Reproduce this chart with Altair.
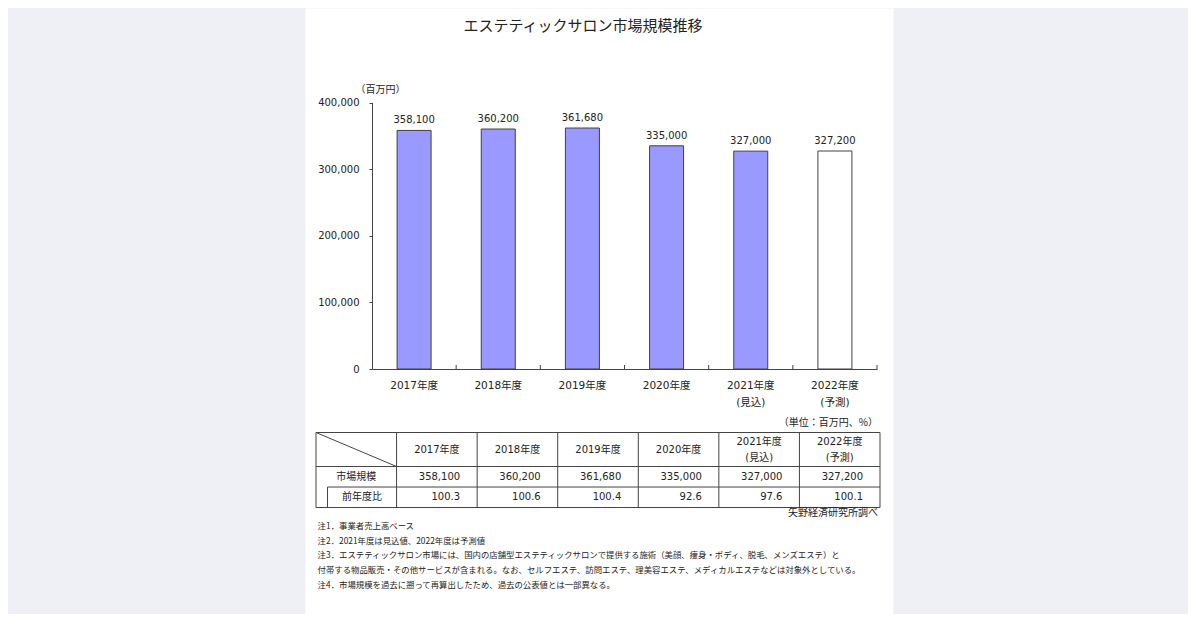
import altair as alt
import pandas as pd

# ---------------- data ----------------
title = "エステティックサロン市場規模推移"
years = ["2017年度", "2018年度", "2019年度", "2020年度", "2021年度", "2022年度"]
year_notes = ["", "", "", "", "(見込)", "(予測)"]
status = ["実績", "実績", "実績", "実績", "見込", "予測"]
market = [358100, 360200, 361680, 335000, 327000, 327200]
yoy = [100.3, 100.6, 100.4, 92.6, 97.6, 100.1]
y_ticks = [0, 100000, 200000, 300000, 400000]
unit_axis = "（百万円）"
unit_table = "（単位：百万円、%）"
row_labels = ["市場規模", "前年度比"]
source = "矢野経済研究所調べ"
notes = [
    "注1．事業者売上高ベース",
    "注2．2021年度は見込値、2022年度は予測値",
    "注3．エステティックサロン市場には、国内の店舗型エステティックサロンで提供する施術（美顔、痩身・ボディ、脱毛、メンズエステ）と",
    "付帯する物品販売・その他サービスが含まれる。なお、セルフエステ、訪問エステ、理美容エステ、メディカルエステなどは対象外としている。",
    "注4．市場規模を過去に遡って再算出したため、過去の公表値とは一部異なる。",
]

# ---------------- styles ----------------
JP = "Noto Sans CJK JP"
MIX = "DejaVu Sans, Noto Sans CJK JP"
INK = "#222222"
LINE = "#444444"
BAR = "#9999FF"

W, H = 588, 606

# ---------------- bar chart ----------------
bars_df = pd.DataFrame({"year": years, "value": market, "status": status})

xs = alt.Scale(domain=years, range=[67, 572], paddingInner=0, paddingOuter=0)
ys = alt.Scale(domain=[0, 400000], range=[361, 94.5], nice=False, zero=True)

label_expr = "".join(
    f"datum.value == '{y}' ? ['{y}', '{n}'] : " for y, n in zip(years, year_notes) if n
) + "datum.label"

x_axis = alt.Axis(
    title=None, ticks=False, grid=False, labelAngle=0, labelFont=MIX, labelFontSize=10.5,
    labelColor=INK, labelPadding=11, labelLineHeight=17, labelExpr=label_expr,
    domainColor=LINE, offset=-245,
)
y_axis = alt.Axis(
    values=y_ticks, labelExpr="format(datum.value, ',')", grid=False,
    labelFont="DejaVu Sans", labelFontSize=10,
    labelColor=INK, labelPadding=10, tickSize=3, tickColor=LINE, domainColor=LINE,
    offset=-67, title=unit_axis, titleAngle=0, titleAlign="left", titleBaseline="middle",
    titleX=-17, titleY=81, titleFont=JP, titleFontSize=10, titleFontWeight="normal",
    titleColor=INK,
)

x_enc = alt.X("year:N", scale=xs, axis=x_axis)
y_enc = alt.Y("value:Q", scale=ys, axis=y_axis)

bars = alt.Chart(bars_df).mark_bar(size=34, stroke="#404040", strokeWidth=1).encode(
    x=x_enc,
    y=y_enc,
    fill=alt.Fill("status:N", scale=alt.Scale(domain=["実績", "見込", "予測"],
                                              range=[BAR, BAR, "#ffffff"]), legend=None),
)
value_labels = alt.Chart(bars_df).mark_text(
    dy=-7, baseline="alphabetic", font="DejaVu Sans", fontSize=10, color=INK
).encode(x=x_enc, y=y_enc, text=alt.Text("value:Q", format=","))

x_ticks = alt.Chart(bars_df).mark_rule(color=LINE, strokeWidth=1).encode(
    x=alt.X("year:N", scale=xs, bandPosition=1),
    y=alt.datum(0),
    y2=alt.datum(6000),
)

bar_group = alt.layer(bars, value_labels, x_ticks)

# ---------------- table ----------------
tx = alt.Scale(domain=[0, 7], range=[11, 575], nice=False, zero=False)
ty = alt.Scale(domain=[0, 1], range=[424.5, 445], nice=False, zero=False)

hdr = 1.66          # header row bottom (row units)
r1 = hdr + 1.0      # first data row bottom
r2 = r1 + 1.0       # second data row bottom
indent = 0.143      # indent of the sub-row label cell
half_line = 0.39    # half line spacing for two-line header cells

grid_rows = [
    (0, 7, 0, 0), (0, 7, hdr, hdr), (indent, 7, r1, r1), (0, 7, r2, r2),
    (0, 0, 0, r2), (indent, indent, r1, r2), (0, 1, 0, hdr),
] + [(i, i, 0, r2) for i in range(1, 8)]
grid_df = pd.DataFrame(grid_rows, columns=["x", "x2", "y", "y2"])

table_lines = alt.Chart(grid_df).mark_rule(color=LINE, strokeWidth=1).encode(
    x=alt.X("x:Q", scale=tx, axis=None), x2="x2:Q",
    y=alt.Y("y:Q", scale=ty, axis=None), y2="y2:Q",
)

hdr_rows = []
for i, (y, n) in enumerate(zip(years, year_notes)):
    if n:
        hdr_rows.append((i + 1.5, hdr / 2 - half_line, y))
        hdr_rows.append((i + 1.5, hdr / 2 + half_line, n))
    else:
        hdr_rows.append((i + 1.5, hdr / 2, y))
hdr_df = pd.DataFrame(hdr_rows, columns=["col", "row", "text"])
hdr_text = alt.Chart(hdr_df).mark_text(
    font=MIX, fontSize=10, color=INK, baseline="middle", align="center",
).encode(x=alt.X("col:Q", scale=tx, axis=None), y=alt.Y("row:Q", scale=ty, axis=None), text="text:N")

rowlab_df = pd.DataFrame({
    "col": [0.5, (indent + 1) / 2],
    "row": [(hdr + r1) / 2, (r1 + r2) / 2],
    "text": row_labels,
})
rowlab_text = alt.Chart(rowlab_df).mark_text(
    font=JP, fontSize=10, color=INK, baseline="middle", align="center",
).encode(x=alt.X("col:Q", scale=tx, axis=None), y=alt.Y("row:Q", scale=ty, axis=None), text="text:N")

num_df = pd.DataFrame({
    "col": [i + 2 for i in range(len(years))],
    "market": market,
    "yoy": yoy,
})
mk_text = alt.Chart(num_df).mark_text(
    font="DejaVu Sans", fontSize=10, color=INK, baseline="middle", align="right", dx=-17,
).encode(x=alt.X("col:Q", scale=tx, axis=None), y=alt.datum((hdr + r1) / 2),
         text=alt.Text("market:Q", format=","))
yoy_text = alt.Chart(num_df).mark_text(
    font="DejaVu Sans", fontSize=10, color=INK, baseline="middle", align="right", dx=-17,
).encode(x=alt.X("col:Q", scale=tx, axis=None), y=alt.datum((r1 + r2) / 2),
         text=alt.Text("yoy:Q", format=".1f"))

unit_text = alt.Chart(pd.DataFrame({"t": [unit_table]})).mark_text(
    font=JP, fontSize=10, color=INK, baseline="middle", align="right",
).encode(x=alt.datum(6.975), y=alt.datum(-0.46), text="t:N")

source_text = alt.Chart(pd.DataFrame({"t": [source]})).mark_text(
    font=JP, fontSize=10, color=INK, baseline="middle", align="right",
).encode(x=alt.datum(6.975), y=alt.datum(r2 + 0.29), text="t:N")

notes_text = alt.Chart(pd.DataFrame({"t": ["\n".join(notes)]})).mark_text(
    font=JP, fontSize=8.4, color=INK, baseline="top", align="left",
    lineBreak="\n", lineHeight=14.8,
).encode(x=alt.datum(0.02), y=alt.datum(r2 + 0.7), text="t:N")

table_group = alt.layer(table_lines, hdr_text, rowlab_text, mk_text, yoy_text,
                        unit_text, source_text, notes_text)

chart = alt.layer(bar_group, table_group).resolve_scale(
    x="independent", y="independent"
).properties(
    width=W,
    height=H,
    autosize=alt.AutoSizeParams(type="none"),
    padding={"left": 297, "top": 0, "right": 295, "bottom": 0},
    background="#eff0f6",
    title=alt.TitleParams(
        text=title, font=JP, fontSize=15, fontWeight="normal", color=INK,
        anchor="middle", frame="group", baseline="middle", offset=0, dx=-16, dy=33,
    ),
).configure_view(fill="white", stroke="transparent")

chart.save("out.html", embed_options={"renderer": "svg", "actions": False})
